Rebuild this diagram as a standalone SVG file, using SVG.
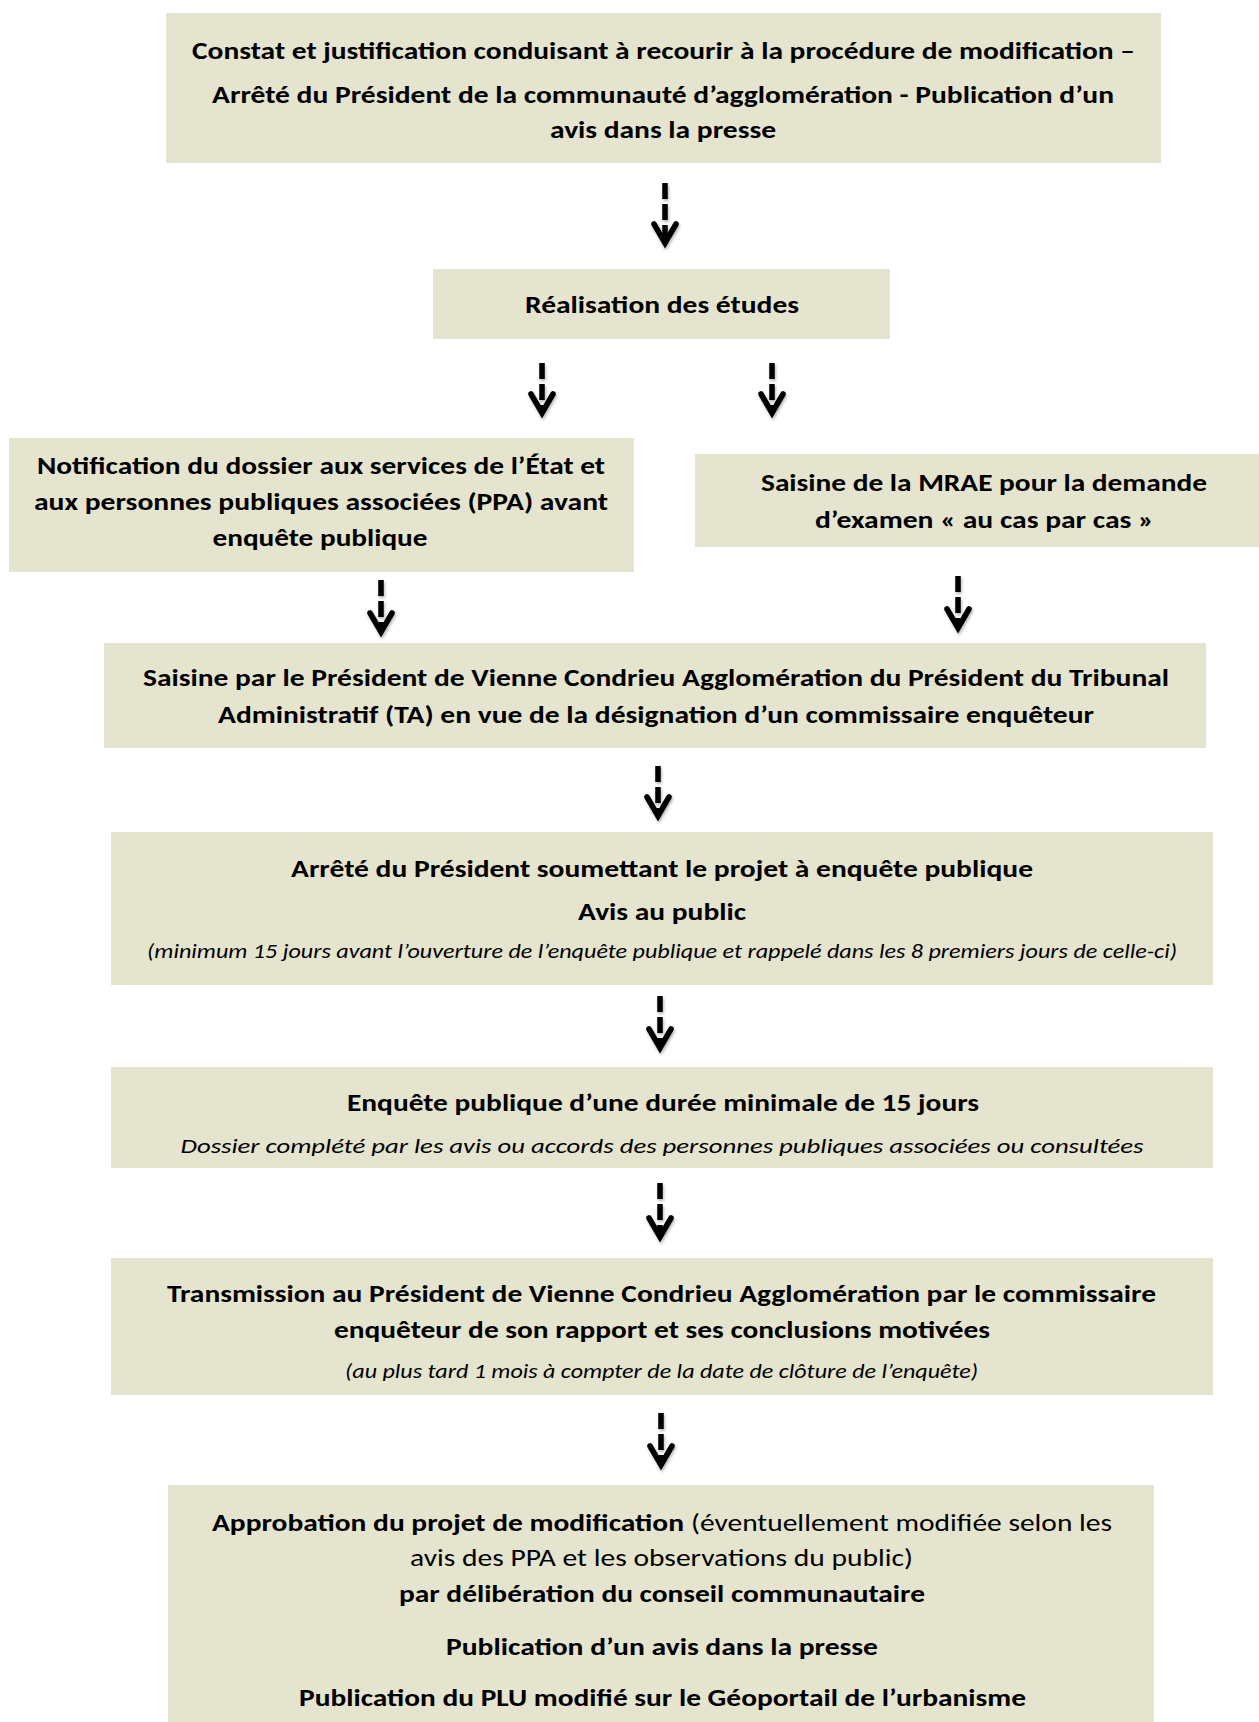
<svg xmlns="http://www.w3.org/2000/svg" width="1259" height="1722" viewBox="0 0 1259 1722">
<style>
.box{fill:#E5E4CE;stroke:none}
text{font-family:Carlito,"Liberation Sans Narrow","Liberation Sans",sans-serif;fill:#000}
.b{font-weight:bold;font-size:24px}
.r{font-weight:normal;font-size:24px}
.i{font-style:italic;font-size:20px}
.c{text-anchor:middle}
.shaft{stroke:#000;stroke-width:5.5;stroke-dasharray:16 5;fill:none}
.head{stroke:#000;stroke-width:5.5;fill:none;stroke-linecap:round;stroke-linejoin:miter}
</style>
<defs>
<filter id="sh" x="-50%" y="-20%" width="200%" height="150%">
<feDropShadow dx="1" dy="2" stdDeviation="1.5" flood-color="#000" flood-opacity="0.3"/>
</filter>
</defs>
<rect width="1259" height="1722" fill="#fff"/>

<g id="n1">
<rect class="box" x="166" y="13" width="995" height="150"/>
<text class="b c" x="663.5" y="59" textLength="943" lengthAdjust="spacingAndGlyphs">Constat et justification conduisant à recourir à la procédure de modification –</text>
<text class="b c" x="663" y="103" textLength="902" lengthAdjust="spacingAndGlyphs">Arrêté du Président de la communauté d’agglomération - Publication d’un</text>
<text class="b c" x="663" y="138" textLength="226" lengthAdjust="spacingAndGlyphs">avis dans la presse</text>
</g>

<g id="n2">
<rect class="box" x="433" y="269" width="457" height="70"/>
<text class="b c" x="662" y="313" textLength="274" lengthAdjust="spacingAndGlyphs">Réalisation des études</text>
</g>

<g id="n3">
<rect class="box" x="9" y="438" width="625" height="134"/>
<text class="b c" x="321" y="474" textLength="568" lengthAdjust="spacingAndGlyphs">Notification du dossier aux services de l’État et</text>
<text class="b c" x="321" y="510" textLength="574" lengthAdjust="spacingAndGlyphs">aux personnes publiques associées (PPA) avant</text>
<text class="b c" x="320" y="546" textLength="215" lengthAdjust="spacingAndGlyphs">enquête publique</text>
</g>

<g id="n4">
<rect class="box" x="695" y="454" width="564" height="93"/>
<text class="b c" x="984" y="491" textLength="446" lengthAdjust="spacingAndGlyphs">Saisine de la MRAE pour la demande</text>
<text class="b c" x="984.5" y="528" textLength="339" lengthAdjust="spacingAndGlyphs">d’examen « au cas par cas »</text>
</g>

<g id="n5">
<rect class="box" x="104" y="643" width="1102" height="105"/>
<text class="b c" x="656" y="686" textLength="1026" lengthAdjust="spacingAndGlyphs">Saisine par le Président de Vienne Condrieu Agglomération du Président du Tribunal</text>
<text class="b c" x="656" y="723" textLength="876" lengthAdjust="spacingAndGlyphs">Administratif (TA) en vue de la désignation d’un commissaire enquêteur</text>
</g>

<g id="n6">
<rect class="box" x="111" y="832" width="1102" height="153"/>
<text class="b c" x="662" y="877" textLength="742" lengthAdjust="spacingAndGlyphs">Arrêté du Président soumettant le projet à enquête publique</text>
<text class="b c" x="662" y="920" textLength="168" lengthAdjust="spacingAndGlyphs">Avis au public</text>
<text class="i c" x="662" y="958" textLength="1030" lengthAdjust="spacingAndGlyphs">(minimum 15 jours avant l’ouverture de l’enquête publique et rappelé dans les 8 premiers jours de celle-ci)</text>
</g>

<g id="n7">
<rect class="box" x="111" y="1067" width="1102" height="101"/>
<text class="b c" x="663" y="1111" textLength="632" lengthAdjust="spacingAndGlyphs">Enquête publique d’une durée minimale de 15 jours</text>
<text class="i c" x="662" y="1153" textLength="963" lengthAdjust="spacingAndGlyphs">Dossier complété par les avis ou accords des personnes publiques associées ou consultées</text>
</g>

<g id="n8">
<rect class="box" x="111" y="1258" width="1102" height="137"/>
<text class="b c" x="661.5" y="1302" textLength="989" lengthAdjust="spacingAndGlyphs">Transmission au Président de Vienne Condrieu Agglomération par le commissaire</text>
<text class="b c" x="662" y="1338" textLength="656" lengthAdjust="spacingAndGlyphs">enquêteur de son rapport et ses conclusions motivées</text>
<text class="i c" x="661.5" y="1378" textLength="633" lengthAdjust="spacingAndGlyphs">(au plus tard 1 mois à compter de la date de clôture de l’enquête)</text>
</g>

<g id="n9">
<rect class="box" x="168" y="1485" width="986" height="237"/>
<text class="b" x="212" y="1531" textLength="472" lengthAdjust="spacingAndGlyphs">Approbation du projet de modification</text>
<text class="r" x="691" y="1531" textLength="421" lengthAdjust="spacingAndGlyphs">(éventuellement modifiée selon les</text>
<text class="r c" x="661.5" y="1566" textLength="503" lengthAdjust="spacingAndGlyphs">avis des PPA et les observations du public)</text>
<text class="b c" x="662" y="1602" textLength="526" lengthAdjust="spacingAndGlyphs">par délibération du conseil communautaire</text>
<text class="b c" x="662" y="1655" textLength="432" lengthAdjust="spacingAndGlyphs">Publication d’un avis dans la presse</text>
<text class="b c" x="662.5" y="1706" textLength="727" lengthAdjust="spacingAndGlyphs">Publication du PLU modifié sur le Géoportail de l’urbanisme</text>
</g>

<g id="connectors" filter="url(#sh)">
<g id="a1"><line class="shaft" x1="665" y1="183" x2="665" y2="240"/><path class="head" d="M654,224 L665,243 L676,224"/></g>
<g id="a2"><line class="shaft" x1="542" y1="363" x2="542" y2="410"/><path class="head" d="M531,394 L542,413 L553,394"/></g>
<g id="a3"><line class="shaft" x1="772" y1="363" x2="772" y2="410"/><path class="head" d="M761,394 L772,413 L783,394"/></g>
<g id="a4"><line class="shaft" x1="381" y1="580" x2="381" y2="629"/><path class="head" d="M370,613 L381,632 L392,613"/></g>
<g id="a5"><line class="shaft" x1="958" y1="576" x2="958" y2="625"/><path class="head" d="M947,609 L958,628 L969,609"/></g>
<g id="a6"><line class="shaft" x1="658" y1="766" x2="658" y2="813"/><path class="head" d="M647,797 L658,816 L669,797"/></g>
<g id="a7"><line class="shaft" x1="660" y1="996" x2="660" y2="1045"/><path class="head" d="M649,1029 L660,1048 L671,1029"/></g>
<g id="a8"><line class="shaft" x1="660" y1="1183" x2="660" y2="1234"/><path class="head" d="M649,1218 L660,1237 L671,1218"/></g>
<g id="a9"><line class="shaft" x1="661" y1="1413" x2="661" y2="1462"/><path class="head" d="M650,1446 L661,1465 L672,1446"/></g>
</g>
</svg>
